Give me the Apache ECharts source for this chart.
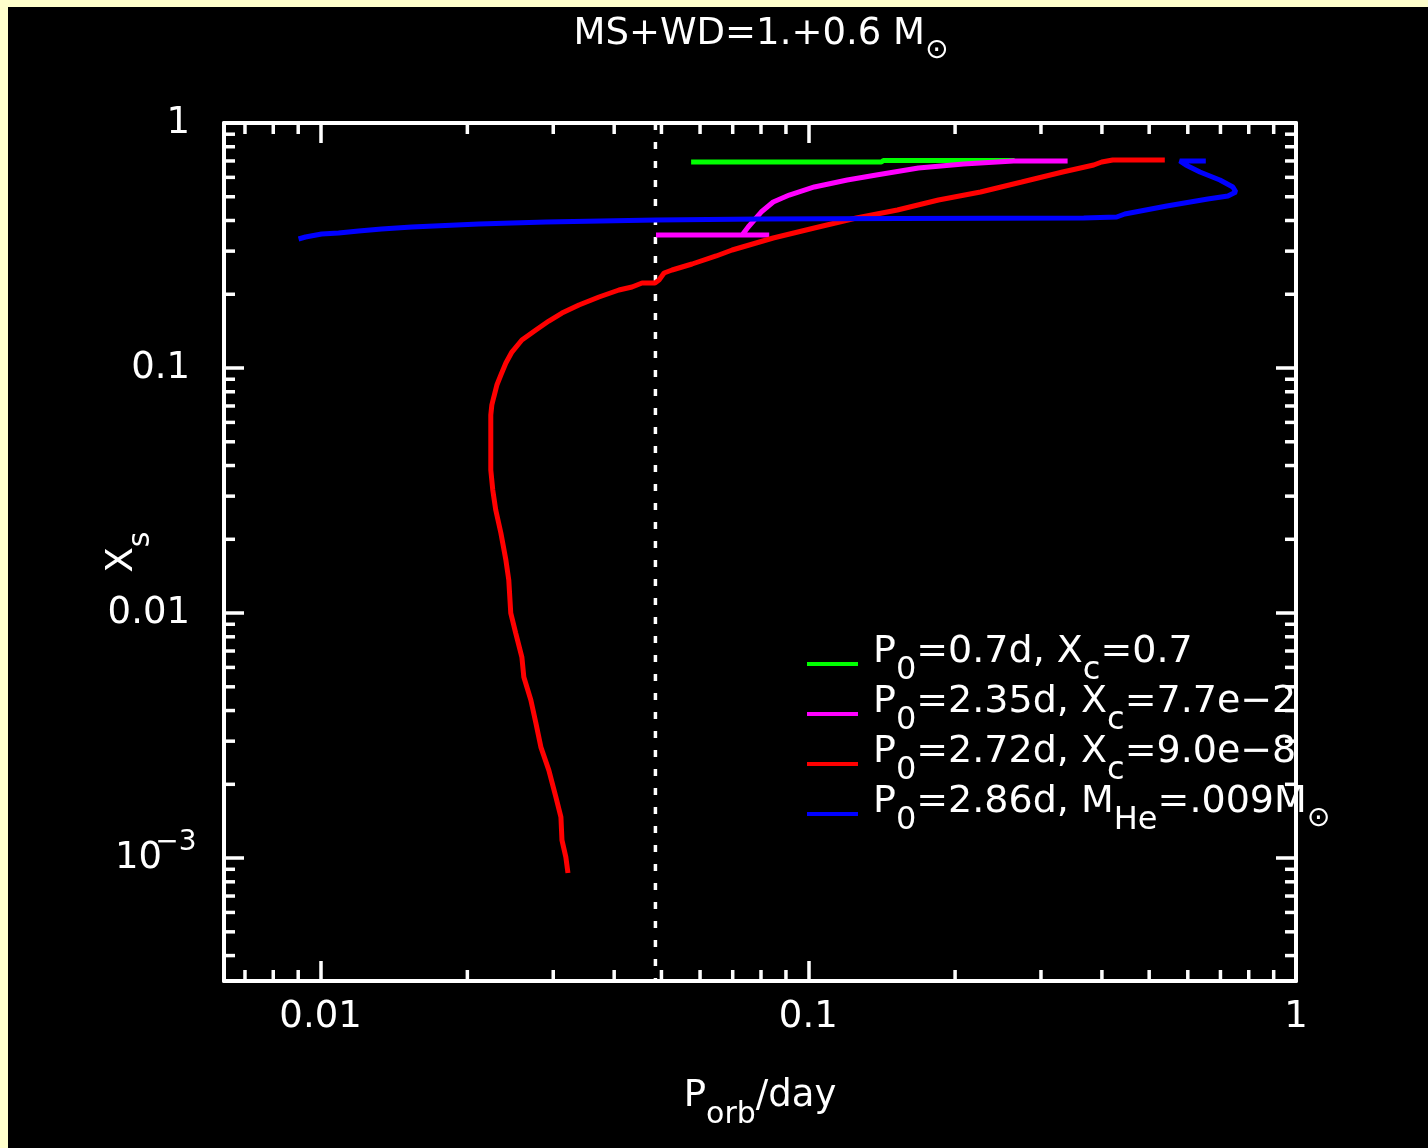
<!DOCTYPE html>
<html>
<head>
<meta charset="utf-8">
<script src="https://cdn.jsdelivr.net/npm/echarts@6/dist/echarts.min.js"></script>
<style>
  html, body { margin: 0; padding: 0; background: #ffffcc; width: 1428px; height: 1148px; overflow: hidden; }
  #chart { position: absolute; left: 8px; top: 7px; width: 1420px; height: 1141px; background: #000; }
</style>
</head>
<body>
<div id="chart"></div>
<script>
// ---- Axis ranges (orbital period in days, surface hydrogen fraction) ----
const X_MIN = 0.00634, X_MAX = 1;
const Y_MIN = 0.000315, Y_MAX = 1;

// ---- Tick labels at each decade ----
const X_DECADES = [-2, -1, 0];
const X_TICK_LABELS = ['0.01', '0.1', '1'];
const Y_DECADES = [-3, -2, -1, 0];
const Y_TICK_LABELS = ['{n|10}{sup|−3}', '0.01', '0.1', '1'];

// ---- Minor tick values (2..9 of each decade) ----
const X_MINOR = [0.007, 0.008, 0.009, 0.02, 0.03, 0.04, 0.05, 0.06, 0.07, 0.08, 0.09,
                 0.2, 0.3, 0.4, 0.5, 0.6, 0.7, 0.8, 0.9];
const Y_MINOR = [0.0004, 0.0005, 0.0006, 0.0007, 0.0008, 0.0009,
                 0.002, 0.003, 0.004, 0.005, 0.006, 0.007, 0.008, 0.009,
                 0.02, 0.03, 0.04, 0.05, 0.06, 0.07, 0.08, 0.09,
                 0.2, 0.3, 0.4, 0.5, 0.6, 0.7, 0.8, 0.9];

// ---- Period-minimum marker ----
const P_MIN_LINE = 0.0486;

// ---- Evolutionary tracks: P_orb (d) and X_s ----
const SERIES_NAMES = ['P0=0.7d', 'P0=2.35d', 'P0=2.72d', 'P0=2.86d'];

const greenP = [0.2649, 0.1426, 0.1412, 0.05752];
const greenX = [0.703, 0.703, 0.693, 0.693];

const magentaP = [0.3402, 0.2636, 0.2081, 0.1682, 0.1379, 0.1202, 0.1029, 0.09141, 0.08474,
                  0.08007, 0.0753, 0.07319, 0.04873, 0.08316];
const magentaX = [0.6996, 0.6996, 0.6801, 0.6549, 0.6134, 0.5853, 0.5481, 0.5083, 0.476,
                  0.4332, 0.3763, 0.349, 0.349, 0.349];

const redP = [0.5383, 0.4209, 0.3996, 0.3848, 0.3323, 0.2739, 0.2255, 0.1849, 0.1523, 0.1255,
              0.1029, 0.08474, 0.06981, 0.06474, 0.05778, 0.05257, 0.05062, 0.04943, 0.0485, 0.04562,
              0.04351, 0.04091, 0.03723, 0.03387, 0.03126, 0.02938, 0.02764, 0.02587, 0.02468, 0.02399,
              0.02343, 0.02299, 0.02266, 0.02245, 0.02234, 0.02234, 0.02255, 0.02287, 0.02343, 0.02399,
              0.02432, 0.02455, 0.02513, 0.02587, 0.02611, 0.02699, 0.02764, 0.0283, 0.02938, 0.03038,
              0.03111, 0.03126, 0.03184, 0.03216];
const redX = [0.7063, 0.7063, 0.6931, 0.6738, 0.631, 0.5743, 0.5229, 0.4851, 0.4415, 0.4097,
              0.3727, 0.3393, 0.3032, 0.2866, 0.2658, 0.2512, 0.2442, 0.2287, 0.2224, 0.2224,
              0.2141, 0.2082, 0.1949, 0.1808, 0.1677, 0.1555, 0.1429, 0.1301, 0.1162, 0.1048,
              0.09363, 0.08522, 0.07615, 0.07063, 0.0643, 0.03835, 0.03177, 0.02633, 0.02121, 0.01646,
              0.01364, 0.01, 0.008288, 0.006613, 0.00548, 0.004414, 0.003556, 0.002838, 0.002286, 0.001774,
              0.00147, 0.001184, 0.001009, 0.000869];

const blueP = [0.6532, 0.5778, 0.5944, 0.6353, 0.6982, 0.7422, 0.7528, 0.7252, 0.6595, 0.5434,
               0.4456, 0.429, 0.3671, 0.1538, 0.07931, 0.04873, 0.02897, 0.02111, 0.01538, 0.01334,
               0.01197, 0.01089, 0.01005, 0.009315, 0.009015];
const blueX = [0.6996, 0.6996, 0.6738, 0.631, 0.5853, 0.5481, 0.5229, 0.5036, 0.4896, 0.4584,
               0.4251, 0.4133, 0.4097, 0.4078, 0.4059, 0.4021, 0.3946, 0.3871, 0.3763, 0.3693,
               0.3624, 0.3556, 0.3523, 0.3425, 0.3362];

// ---- Styling ----
const FONT = 'DejaVu Sans';
const FS = 37;
const WHITE = '#ffffff';
const COLORS = ['#00ff00', '#ff00ff', '#ff0000', '#0000ff'];
const MAJOR_LEN = 20, MINOR_LEN = 11, TICK_W = 3.5, AXIS_W = 4, TRACK_W = 5;

function richSet(main, subSize) {
  return {
    n:   { fontFamily: FONT, fontSize: main, color: WHITE, fontWeight: 'normal', lineHeight: 40 },
    sub: { fontFamily: FONT, fontSize: subSize, color: WHITE, fontWeight: 'normal', lineHeight: 40, padding: [38, 0, 0, 0] },
    sup: { fontFamily: FONT, fontSize: 28, color: WHITE, fontWeight: 'normal', lineHeight: 40, padding: [0, 0, 30, 0], width: 28, align: 'left' },
    sun: { fontFamily: FONT, fontSize: 28, color: WHITE, fontWeight: 'normal', lineHeight: 40, padding: [34, 0, 0, 0] }
  };
}
const rich = richSet(FS, 30);
const legendRich = richSet(38, 32);

const LEGEND_TEXT = {
  'P0=0.7d':  '{n|P}{sub|0}{n|=0.7d, X}{sub|c}{n|=0.7}',
  'P0=2.35d': '{n|P}{sub|0}{n|=2.35d, X}{sub|c}{n|=7.7e−2}',
  'P0=2.72d': '{n|P}{sub|0}{n|=2.72d, X}{sub|c}{n|=9.0e−8}',
  'P0=2.86d': '{n|P}{sub|0}{n|=2.86d, M}{sub|He}{n|=.009M}{sun|⊙}'
};

function decadeLabel(decades, labels) {
  return function (v) {
    const e = Math.log10(v);
    const r = Math.round(e);
    if (Math.abs(e - r) > 1e-6) return '';
    const i = decades.indexOf(r);
    return i < 0 ? '' : labels[i];
  };
}

function pairs(xs, ys) { return xs.map((x, i) => [x, ys[i]]); }

const baseText = { color: WHITE, fontFamily: FONT, fontSize: FS, fontWeight: 'normal', lineHeight: 40 };

function logAxis(extra) {
  return Object.assign({
    type: 'log', logBase: 10,
    axisLine: { show: true, lineStyle: { color: WHITE, width: AXIS_W } },
    axisTick: { show: true, inside: true, length: MAJOR_LEN, lineStyle: { color: WHITE, width: TICK_W } },
    splitLine: { show: false },
    minorTick: { show: false }
  }, extra);
}

// Minor ticks on both mirrored sides, placed through the cartesian coordinate system
const xMinorSeries = {
  type: 'custom', coordinateSystem: 'cartesian2d', silent: true, clip: false, z: 1,
  data: X_MINOR.map(v => [v, Y_MIN]),
  renderItem: function (params, api) {
    const v = api.value(0);
    const b = api.coord([v, Y_MIN]);
    const t = api.coord([v, Y_MAX]);
    const st = { stroke: WHITE, lineWidth: TICK_W };
    return { type: 'group', children: [
      { type: 'line', shape: { x1: b[0], y1: b[1], x2: b[0], y2: b[1] - MINOR_LEN }, style: st },
      { type: 'line', shape: { x1: t[0], y1: t[1], x2: t[0], y2: t[1] + MINOR_LEN }, style: st }
    ] };
  }
};
const yMinorSeries = {
  type: 'custom', coordinateSystem: 'cartesian2d', silent: true, clip: false, z: 1,
  data: Y_MINOR.map(v => [X_MIN, v]),
  renderItem: function (params, api) {
    const v = api.value(1);
    const l = api.coord([X_MIN, v]);
    const r = api.coord([X_MAX, v]);
    const st = { stroke: WHITE, lineWidth: TICK_W };
    return { type: 'group', children: [
      { type: 'line', shape: { x1: l[0], y1: l[1], x2: l[0] + MINOR_LEN, y2: l[1] }, style: st },
      { type: 'line', shape: { x1: r[0], y1: r[1], x2: r[0] - MINOR_LEN, y2: r[1] }, style: st }
    ] };
  }
};

const tracks = [
  pairs(greenP, greenX), pairs(magentaP, magentaX), pairs(redP, redX), pairs(blueP, blueX)
].map((d, i) => ({
  type: 'line', name: SERIES_NAMES[i], data: d,
  symbol: 'none', showSymbol: false, z: 3,
  lineStyle: { color: COLORS[i], width: TRACK_W },
  itemStyle: { color: COLORS[i] }
}));

const option = {
  backgroundColor: '#000000',
  animation: false,
  title: {
    text: '{n|MS+WD=1.+0.6 M}{sun|⊙}',
    left: 753, top: 7, padding: 0, textAlign: 'center',
    textStyle: Object.assign({ rich: rich }, baseText)
  },
  legend: {
    orient: 'vertical', left: 794, top: 605,
    itemWidth: 51, itemHeight: 4, itemGap: -29, icon: 'rect',
    data: SERIES_NAMES, selectedMode: false,
    formatter: name => LEGEND_TEXT[name],
    textStyle: Object.assign({ rich: legendRich, padding: [0, 0, 24, 10] }, baseText, { fontSize: 38 })
  },
  grid: { left: 216, right: 132, top: 116, bottom: 167, containLabel: false, outerBoundsMode: 'none' },
  xAxis: [
    logAxis({
      position: 'bottom', min: X_MIN, max: X_MAX,
      axisLabel: Object.assign({ margin: 16, showMinLabel: true, showMaxLabel: true,
        formatter: decadeLabel(X_DECADES, X_TICK_LABELS), rich: rich }, baseText),
      name: '{n|P}{sub|orb}{n|/day}', nameLocation: 'middle', nameGap: 95, nameMoveOverlap: false,
      nameTextStyle: Object.assign({ rich: rich }, baseText)
    }),
    logAxis({ position: 'top', min: X_MIN, max: X_MAX, axisLabel: { show: false } })
  ],
  yAxis: [
    logAxis({
      position: 'left', min: Y_MIN, max: Y_MAX,
      axisLabel: Object.assign({ margin: 34, showMinLabel: true, showMaxLabel: true,
        formatter: decadeLabel(Y_DECADES, Y_TICK_LABELS), rich: rich }, baseText),
      name: '{n|X}{sub|s}', nameLocation: 'middle', nameGap: 82, nameMoveOverlap: false,
      nameTextStyle: Object.assign({ rich: rich }, baseText)
    }),
    logAxis({ position: 'right', min: Y_MIN, max: Y_MAX, axisLabel: { show: false } })
  ],
  series: [
    xMinorSeries,
    yMinorSeries,
    {
      type: 'line', name: 'pmin', data: [[P_MIN_LINE, Y_MAX], [P_MIN_LINE, Y_MIN]],
      symbol: 'none', silent: true, z: 2,
      lineStyle: { color: WHITE, width: 3.5, type: [7, 12] }
    }
  ].concat(tracks)
};

const chart = echarts.init(document.getElementById('chart'), null, { renderer: 'canvas' });
chart.setOption(option);
</script>
</body>
</html>
